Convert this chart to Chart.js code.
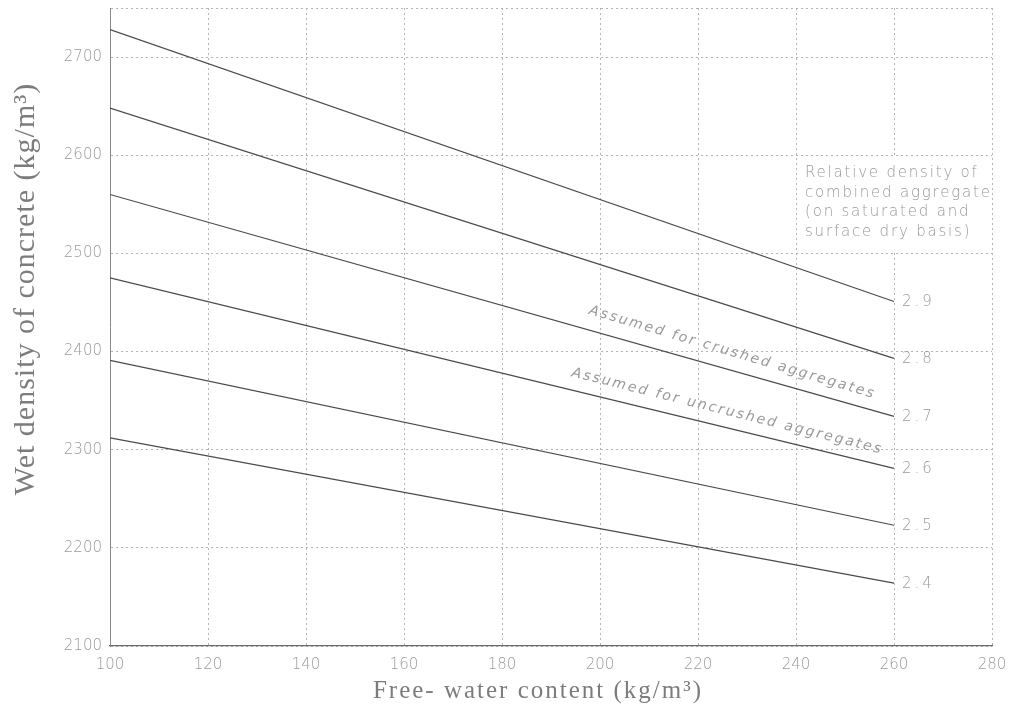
<!DOCTYPE html>
<html>
<head>
<meta charset="utf-8">
<script src="https://cdn.jsdelivr.net/npm/chart.js@4.4.1/dist/chart.umd.min.js"></script>
<style>
  html, body { margin: 0; padding: 0; background: #fff; }
  #wrap { width: 1012px; height: 722px; position: relative; }
</style>
</head>
<body>
<div id="wrap"><canvas id="density-chart"></canvas></div>
<script>
// free-water content (kg/m3), line end points
const waterContent = [100, 260];

// relative density of combined aggregate, one line each
const densityLabels = ["2.9", "2.8", "2.7", "2.6", "2.5", "2.4"];
const wet29 = [2728, 2451];
const wet28 = [2648, 2393];
const wet27 = [2560, 2334];
const wet26 = [2475, 2281];
const wet25 = [2391, 2223];
const wet24 = [2312, 2164];

const yTicks = [2100, 2200, 2300, 2400, 2500, 2600, 2700];

const boxLines = ["Relative density of", "combined aggregate", "(on saturated and", "surface dry basis)"];
const noteText = ["Assumed for crushed aggregates", "Assumed for uncrushed aggregates"];
const noteX = [227, 226];
const noteY = [2399, 2339];
const noteAngle = [16.5, 14];

const allSeries = [wet29, wet28, wet27, wet26, wet25, wet24];

const datasets = allSeries.map((vals, i) => ({
  label: densityLabels[i],
  data: waterContent.map((w, j) => ({ x: w, y: vals[j] })),
  borderColor: "#4a4a4a",
  borderWidth: 1.2,
  pointRadius: 0,
  fill: false,
  tension: 0
}));

const tickFont = { family: "'DejaVu Sans', sans-serif", size: 15, weight: "200" };

// titles, end labels and notes drawn on top
const notesPlugin = {
  id: "notes",
  afterDatasetsDraw(chart) {
    const { ctx, chartArea, scales } = chart;
    const xs = scales.x, ys = scales.y;
    ctx.save();

    // white box holding the legend text
    const bx = xs.getPixelForValue(240) + 3;
    const by = ys.getPixelForValue(2600) + 3;
    const bh = ys.getPixelForValue(2500) - by - 3;
    ctx.fillStyle = "#fff";
    ctx.fillRect(bx, by, chartArea.right - bx - 2, bh);

    ctx.fillStyle = "#999";
    ctx.font = "200 15px 'DejaVu Sans', sans-serif";
    ctx.letterSpacing = "1.8px";
    ctx.textAlign = "left";
    ctx.textBaseline = "middle";
    boxLines.forEach((t, i) => {
      ctx.fillText(t, bx + 6, by + 15 + i * 19.5);
    });

    // end labels of each line
    ctx.font = "200 15px 'DejaVu Sans', sans-serif";
    ctx.letterSpacing = "3px";
    allSeries.forEach((vals, i) => {
      const px = xs.getPixelForValue(waterContent[1]) + 8;
      const py = ys.getPixelForValue(vals[vals.length - 1]) + 1;
      ctx.fillText(densityLabels[i], px, py);
    });

    // slanted notes along the lines
    ctx.font = "italic 200 14px 'DejaVu Sans', sans-serif";
    ctx.letterSpacing = "2.2px";
    ctx.textAlign = "center";
    noteText.forEach((t, i) => {
      ctx.save();
      ctx.translate(xs.getPixelForValue(noteX[i]), ys.getPixelForValue(noteY[i]));
      ctx.rotate(noteAngle[i] * Math.PI / 180);
      ctx.fillText(t, 0, 0);
      ctx.restore();
    });

    // axis titles
    ctx.fillStyle = "#7c7c7c";
    ctx.letterSpacing = "1px";
    ctx.font = "30px 'Liberation Serif', 'Times New Roman', serif";
    ctx.save();
    ctx.translate(26, 289);
    ctx.rotate(-Math.PI / 2);
    ctx.fillText("Wet density of concrete (kg/m\u00b3)", 0, 0);
    ctx.restore();

    ctx.font = "25px 'Liberation Serif', 'Times New Roman', serif";
    ctx.letterSpacing = "2px";
    ctx.fillText("Free- water content (kg/m\u00b3)", 538, 691);

    ctx.restore();
  }
};

new Chart(document.getElementById("density-chart"), {
  type: "line",
  data: { datasets },
  options: {
    responsive: true,
    maintainAspectRatio: false,
    animation: false,
    layout: { padding: { top: 8, right: 20, left: 0, bottom: 0 } },
    plugins: {
      legend: { display: false },
      tooltip: { enabled: false }
    },
    scales: {
      x: {
        type: "linear",
        min: 100,
        max: 280,
        ticks: { stepSize: 20, color: "#9a9a9a", font: tickFont, padding: 10, maxRotation: 0 },
        grid: { color: "#b4b4b4", lineWidth: 1, drawTicks: false },
        border: { color: "#6a6a6a", width: 1.2, dash: [2, 3] },
        afterFit(scale) {
          scale.height = 76;
          scale.paddingLeft = 0;
          scale.paddingRight = 0;
        }
      },
      y: {
        min: 2100,
        max: 2750,
        afterBuildTicks(scale) {
          scale.ticks = yTicks.concat([2750]).map(v => ({ value: v }));
        },
        ticks: {
          color: "#9a9a9a",
          font: tickFont,
          padding: 8,
          callback: v => (yTicks.includes(v) ? String(v) : "")
        },
        grid: { color: "#b4b4b4", lineWidth: 1, drawTicks: false },
        border: { color: "#8a8a8a", width: 1, dash: [2, 3] },
        afterFit(scale) {
          scale.width = 110;
          scale.paddingTop = 0;
          scale.paddingBottom = 0;
        }
      }
    }
  },
  plugins: [notesPlugin]
});
</script>
</body>
</html>
